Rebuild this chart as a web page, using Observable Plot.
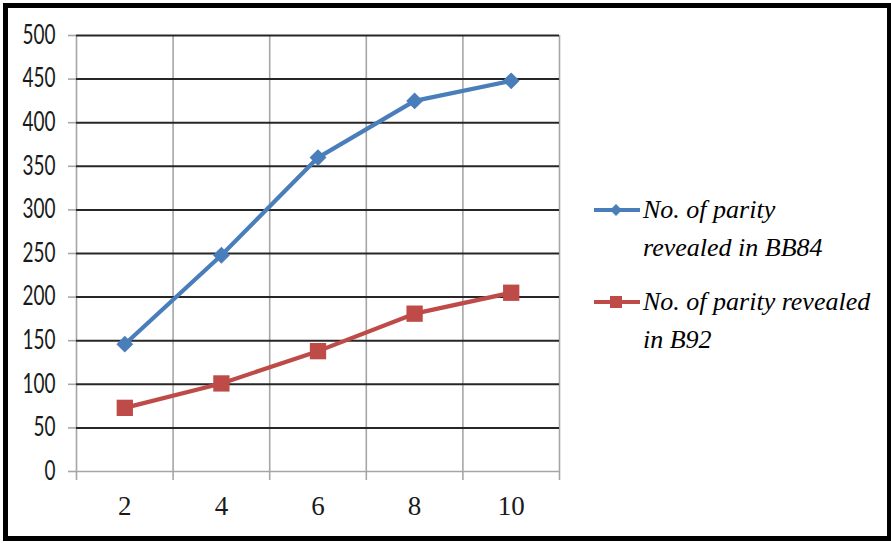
<!DOCTYPE html>
<html>
<head>
<meta charset="utf-8">
<script src="https://cdn.jsdelivr.net/npm/d3@7"></script>
<script src="https://cdn.jsdelivr.net/npm/@observablehq/plot@0.6"></script>
<style>
  html, body { margin: 0; padding: 0; background: #fff; }
  #wrap { position: relative; width: 891px; height: 543px; overflow: hidden; }
  #frame { position: absolute; left: 3px; top: 3px; width: 889px; height: 538px;
           box-sizing: border-box; border: 5px solid #000; pointer-events: none; }
  #chart { position: absolute; left: 0; top: 0; }
  #legend { position: absolute; left: 590px; top: 0; font-family: 'Liberation Serif', 'Times New Roman', serif;
            font-style: italic; font-size: 26px; color: #000; }
  .entry { position: absolute; left: 0; white-space: nowrap; }
  .entry svg { position: absolute; left: 0; }
  .entry .txt { position: absolute; left: 53px; line-height: 38px; }
</style>
</head>
<body>
<div id="wrap">
  <div id="chart"></div>
  <div id="legend"></div>
  <div id="frame"></div>
</div>
<script>
// Number of parity bits revealed, per category
const categories = [2, 4, 6, 8, 10];
const bb84 = [146, 248, 360, 425, 448];
const b92 = [73, 101, 138, 181, 205];
const yTicks = [0, 50, 100, 150, 200, 250, 300, 350, 400, 450, 500];
const seriesNames = ["No. of parity revealed in BB84", "No. of parity revealed in B92"];
const legendLines = [["No. of parity", "revealed in BB84"], ["No. of parity revealed", "in B92"]];
const colors = ["#4a7ebb", "#be4b48"];

// category boundaries sit halfway between the labelled positions
const bounds = [categories[0] - 1, ...categories.map(c => c + 1)];

const rows = [
  ...categories.map((c, i) => ({x: c, y: bb84[i], s: seriesNames[0]})),
  ...categories.map((c, i) => ({x: c, y: b92[i], s: seriesNames[1]}))
];

const chart = Plot.plot({
  width: 891,
  height: 543,
  marginLeft: 76,
  marginRight: 332,
  marginTop: 35,
  marginBottom: 72,
  style: {background: "transparent"},
  x: {type: "linear", domain: [bounds[0], bounds[bounds.length - 1]]},
  y: {domain: [0, 500]},
  color: {domain: seriesNames, range: colors},
  marks: [
    // vertical category gridlines
    Plot.ruleX(bounds, {stroke: "#a6a6a6", strokeWidth: 1.6}),
    // horizontal value gridlines
    Plot.ruleY(yTicks.filter(d => d > 0), {stroke: "#262626", strokeWidth: 2}),
    Plot.ruleY([0], {stroke: "#a6a6a6", strokeWidth: 1.6}),
    Plot.axisY(yTicks, {
      tickSize: 8, tickPadding: 13, stroke: "#a6a6a6", strokeWidth: 1.6,
      fontSize: 26, fontFamily: "Lato, sans-serif",
      fill: "#1a1a1a", label: null
    }),
    // tick marks at category boundaries, labels at category centres
    Plot.axisX(bounds, {tickSize: 9, stroke: "#a6a6a6", strokeWidth: 1.6, tickFormat: () => "", label: null}),
    Plot.axisX(categories, {
      tickSize: 0, tickPadding: 24, fontSize: 27,
      fontFamily: "'Liberation Serif', serif", fill: "#1a1a1a", label: null
    }),
    Plot.line(rows, {x: "x", y: "y", z: "s", stroke: "s", strokeWidth: 4.2}),
    Plot.dot(rows.filter(d => d.s === seriesNames[0]), {x: "x", y: "y", symbol: "diamond2", r: 7.6, fill: colors[0], stroke: "none"}),
    Plot.dot(rows.filter(d => d.s === seriesNames[1]), {x: "x", y: "y", symbol: "square", r: 9.2, fill: colors[1], stroke: "none"})
  ]
});
// narrow the value labels to a condensed look
d3.select(chart).selectAll('g[aria-label="y-axis tick label"] text').each(function() {
  const n = this.textContent.length;
  this.setAttribute("textLength", 11 * n);
  this.setAttribute("lengthAdjust", "spacingAndGlyphs");
});
document.getElementById("chart").appendChild(chart);

// legend: line-and-marker swatches with wrapped italic labels
const legend = document.getElementById("legend");
const entryTops = [191, 283];
legendLines.forEach((lines, i) => {
  const e = document.createElement("div");
  e.className = "entry";
  e.style.top = entryTops[i] + "px";
  const marker = i === 0
    ? `<path d="M26,10 L32,16 L26,22 L20,16 Z" fill="${colors[0]}"/>`
    : `<rect x="20" y="10" width="12" height="12" fill="${colors[1]}"/>`;
  e.innerHTML = `<svg width="54" height="32" style="top:3px"><line x1="4" x2="50" y1="16" y2="16" stroke="${colors[i]}" stroke-width="4"/>${marker}</svg>` +
    `<div class="txt">${lines.join("<br>")}</div>`;
  legend.appendChild(e);
});
</script>
</body>
</html>
